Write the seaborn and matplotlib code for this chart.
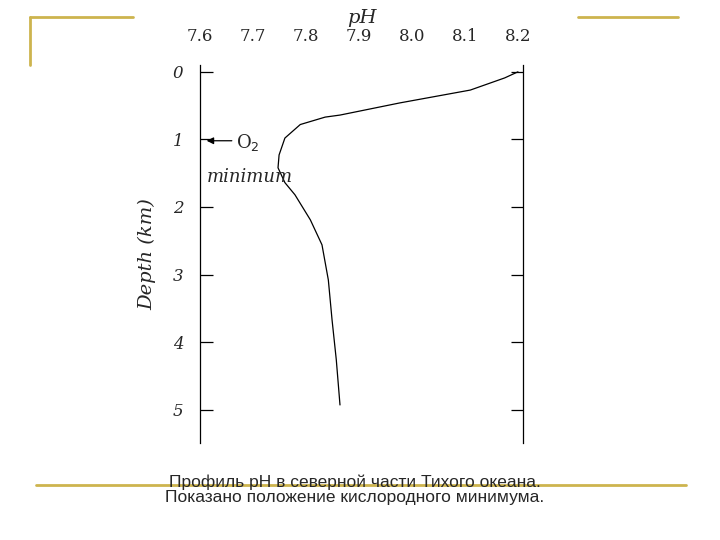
import matplotlib
matplotlib.use("Agg")
import matplotlib.pyplot as plt
import seaborn as sns
import pandas as pd
from matplotlib.lines import Line2D

# --- data ---
ph = [8.20, 8.175, 8.11, 7.977, 7.864, 7.836, 7.789, 7.76, 7.749, 7.747,
      7.76, 7.779, 7.808, 7.83, 7.842, 7.849, 7.857, 7.864]
depth = [0.0, 0.09, 0.27, 0.46, 0.64, 0.67, 0.78, 0.98, 1.23, 1.42,
         1.64, 1.82, 2.19, 2.56, 3.08, 3.67, 4.26, 4.93]
ph_ticks = [7.6, 7.7, 7.8, 7.9, 8.0, 8.1, 8.2]
ph_labels = ["7.6", "7.7", "7.8", "7.9", "8.0", "8.1", "8.2"]
depth_ticks = [0, 1, 2, 3, 4, 5]
marked_ph = [7.7, 8.0]
caption = "Профиль pH в северной части Тихого океана.\nПоказано положение кислородного минимума."

sns.set_style("white")
plt.rcParams["font.family"] = ["DejaVu Serif"]

fig = plt.figure(figsize=(7.2, 5.4), dpi=100)
ax = fig.add_axes([0.278, 0.180, 0.448, 0.700])

df = pd.DataFrame({"ph": ph, "depth": depth})
sns.lineplot(data=df, x="ph", y="depth", sort=False, estimator=None,
             color="black", lw=0.9, ax=ax)

ax.set_xlim(7.6, 8.209)
ax.set_ylim(5.49, -0.104)

for s in ["top", "bottom"]:
    ax.spines[s].set_visible(False)
for s in ["left", "right"]:
    ax.spines[s].set_color("black")
    ax.spines[s].set_linewidth(0.9)

ax.xaxis.tick_top()
ax.set_xticks(ph_ticks)
ax.set_xticklabels(ph_labels, fontsize=12, family="DejaVu Serif")
ax.set_xticks(marked_ph, minor=True)
ax.tick_params(axis="x", which="major", length=0, pad=14)
ax.tick_params(axis="x", which="minor", direction="in", length=12, width=0.9,
               color="black", top=True, bottom=False)

ax.set_yticks(depth_ticks)
ax.set_yticklabels([str(d) for d in depth_ticks], fontsize=12, style="italic")
ax.tick_params(axis="y", direction="in", length=9, width=0.9, color="black",
               left=True, right=True, pad=12)

ax.set_xlabel("pH", fontsize=14, style="italic", labelpad=4)
ax.xaxis.set_label_position("top")
ax.set_ylabel("Depth (km)", fontsize=14, style="italic", labelpad=12)
ax.grid(False)

ax.annotate("", xy=(7.607, 1.02), xytext=(7.665, 1.02),
            arrowprops=dict(arrowstyle="-|>", color="black", lw=0.9))
ax.text(7.668, 1.05, "O$_2$", fontsize=13, va="center", ha="left")
ax.text(7.613, 1.55, "minimum", fontsize=13, style="italic", va="center", ha="left")

gold = "#CDB44E"
for xs, ys in [([30, 133], [17, 17]), ([30, 30], [17, 65]), ([578, 678], [17, 17]),
               ([36, 686], [485, 485])]:
    fig.add_artist(Line2D([x / 720 for x in xs], [1 - y / 540 for y in ys], color=gold, lw=2))

fig.text(355 / 720, 1 - 490 / 540, caption, ha="center", va="center", fontsize=12.5,
         family="Liberation Sans", linespacing=1.0)

fig.savefig("out.png", dpi=100)
